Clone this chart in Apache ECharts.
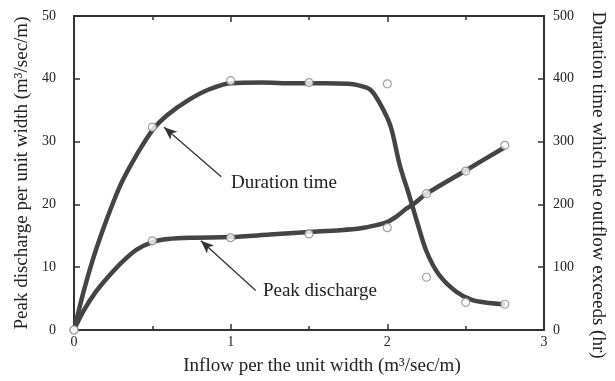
<!DOCTYPE html>
<html>
<head>
<meta charset="utf-8">
<script src="https://cdn.jsdelivr.net/npm/echarts@6/dist/echarts.min.js"></script>
<style>html,body{margin:0;padding:0;background:#fff}#c{width:615px;height:381px}</style>
</head>
<body>
<div id="c"></div>
<script>
// Measured points (inflow, value)
var peakPoints = [[0,0],[0.5,14.2],[1.0,14.7],[1.5,15.3],[2.0,16.3],[2.25,21.7],[2.5,25.3],[2.75,29.4]];
var durationPoints = [[0,0],[0.5,323],[1.0,397],[1.5,394],[2.0,392],[2.25,84],[2.5,44],[2.75,41]];
// Fitted curves
var peakCurve = [[0,0],[0.06,3.0],[0.14,6.1],[0.23,8.8],[0.31,10.9],[0.4,12.8],[0.5,14.0],[0.6,14.5],[0.75,14.7],[1.0,14.8],[1.25,15.2],[1.5,15.6],[1.7,15.9],[1.83,16.2],[1.93,16.7],[2.0,17.2],[2.06,18.1],[2.12,19.3],[2.17,20.1],[2.25,21.7],[2.5,25.4],[2.75,29.1]];
var durationCurve = [[0,0],[0.06,60],[0.12,112],[0.185,160],[0.25,203],[0.31,238],[0.4,279],[0.5,318],[0.6,343],[0.73,366],[0.86,383],[1.0,393],[1.2,394],[1.4,393],[1.6,393],[1.75,392],[1.81,390],[1.89,383],[1.95,362],[2.02,325],[2.08,262],[2.14,214],[2.19,172],[2.25,125],[2.33,88],[2.44,61],[2.54,48],[2.65,43],[2.75,41]];
var xTitle = 'Inflow per the unit width (m\u00B3/sec/m)';
var leftTitle = 'Peak discharge per unit width (m\u00B3/sec/m)';
var rightTitle = 'Duration time which the outflow exceeds (hr)';
var durLabel = 'Duration time', durLabelAt = [1.34, 23.4], durArrow = [[0.94, 24.4],[0.575, 32.3]];
var peakLabel = 'Peak discharge', peakLabelAt = [1.57, 6.2], peakArrow = [[1.16, 6.3],[0.81, 14.2]];

var F = '"Liberation Serif", "DejaVu Serif", serif';
var C = '#333';
var chart = echarts.init(document.getElementById('c'), null, {renderer:'canvas'});
var axisLine = {show:true, onZero:false, lineStyle:{color:C, width:2}};
var tick = {show:true, inside:true, length:6, lineStyle:{color:C, width:1.5}};
chart.setOption({
  backgroundColor:'#fff',
  animation:false,
  grid:{left:74, right:66, top:16, bottom:49},
  xAxis:[{
    type:'value', min:0, max:3, interval:1, position:'bottom',
    axisLine:axisLine, axisTick:tick,
    minorTick:{show:true, splitNumber:2, length:4, lineStyle:{color:C, width:1.5}},
    splitLine:{show:false}, minorSplitLine:{show:false},
    axisLabel:{fontFamily:F, fontSize:14, color:'#222', margin:5},
    name:xTitle, nameLocation:'middle', nameGap:27,
    nameTextStyle:{fontFamily:F, fontSize:19, color:'#222', padding:[0,0,0,26]}
  },{
    type:'value', min:0, max:3, interval:1, position:'top',
    axisLine:axisLine, axisTick:tick,
    minorTick:{show:true, splitNumber:2, length:4, lineStyle:{color:C, width:1.5}},
    splitLine:{show:false}, minorSplitLine:{show:false}, axisLabel:{show:false}
  }],
  yAxis:[{
    type:'value', min:0, max:50, interval:10, position:'left',
    axisLine:axisLine, axisTick:tick,
    splitLine:{show:false},
    axisLabel:{fontFamily:F, fontSize:14, color:'#222', margin:18},
    name:leftTitle, nameLocation:'middle', nameGap:42, nameRotate:90,
    nameTextStyle:{fontFamily:F, fontSize:19, color:'#222'}
  },{
    type:'value', min:0, max:500, interval:100, position:'right',
    axisLine:axisLine, axisTick:tick,
    splitLine:{show:false},
    axisLabel:{fontFamily:F, fontSize:14, color:'#222', margin:9},
    name:rightTitle, nameLocation:'middle', nameGap:44, nameRotate:-90,
    nameTextStyle:{fontFamily:F, fontSize:19, color:'#222', padding:[0,0,0,24]}
  }],
  series:[{
    type:'line', name:'peakCurve', xAxisIndex:0, yAxisIndex:0, data:peakCurve,
    smooth:0.3, showSymbol:false, z:2,
    lineStyle:{color:'#444', width:4.5},
    markLine:{silent:true, symbol:['none','arrow'], symbolSize:[8,13],
      lineStyle:{color:'#333', width:1.3, type:'solid'}, label:{show:false},
      data:[[{coord:durArrow[0]},{coord:durArrow[1]}],[{coord:peakArrow[0]},{coord:peakArrow[1]}]]},
    markPoint:{silent:true, symbol:'circle', symbolSize:0,
      label:{show:true, position:'inside', fontFamily:F, fontSize:19, color:'#222', formatter:function(p){return p.name;}},
      data:[{name:durLabel, coord:durLabelAt},{name:peakLabel, coord:peakLabelAt}]}
  },{
    type:'line', name:'durationCurve', xAxisIndex:0, yAxisIndex:1, data:durationCurve,
    smooth:0.3, showSymbol:false, z:2,
    lineStyle:{color:'#444', width:4.5}
  },{
    type:'scatter', name:'peakPoints', xAxisIndex:0, yAxisIndex:0, data:peakPoints,
    symbol:'circle', symbolSize:8, z:3,
    itemStyle:{color:'#fff', borderColor:'#888', borderWidth:1.2}
  },{
    type:'scatter', name:'durationPoints', xAxisIndex:0, yAxisIndex:1, data:durationPoints,
    symbol:'circle', symbolSize:8, z:3,
    itemStyle:{color:'#fff', borderColor:'#888', borderWidth:1.2}
  }]
});
</script>
</body>
</html>
